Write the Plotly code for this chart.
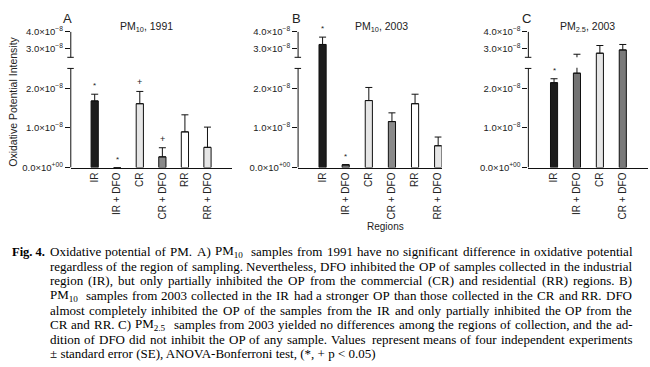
import re
import plotly.graph_objects as go

W, H = 650, 367

# ---------------- data (values in units of 1e-8) ----------------
cats_AB = ["IR", "IR + DFO", "CR", "CR + DFO", "RR", "RR + DFO"]
cats_C = ["IR", "IR + DFO", "CR", "CR + DFO"]

vals_A = [1.68, 0.0, 1.61, 0.27, 0.90, 0.51]
err_A = [0.17, 0.0, 0.31, 0.23, 0.43, 0.51]
sig_A = ["*", "*", "+", "+", "", ""]

vals_B = [3.25, 0.07, 1.69, 1.16, 1.61, 0.55]
err_B = [0.43, 0.0, 0.33, 0.22, 0.24, 0.22]
sig_B = ["*", "*", "", "", "", ""]

vals_C = [2.14, 2.38, 2.74, 2.93]
err_C = [0.10, 0.30, 0.45, 0.32]
sig_C = ["*", "", "", ""]

colors_A = ["#1c1c1c", "#707070", "#e6e6e6", "#8a8a8a", "#ffffff", "#e6e6e6"]
colors_B = ["#1c1c1c", "#6e6e6e", "#e6e6e6", "#8a8a8a", "#ffffff", "#e6e6e6"]
colors_C = ["#1c1c1c", "#737373", "#e6e6e6", "#7a7a7a"]

tick_values = [0, 1, 2, 3, 4]
tick_labels = ["0.0×10<sup>+00</sup>", "1.0×10<sup>−8</sup>", "2.0×10<sup>−8</sup>",
               "3.0×10<sup>−8</sup>", "4.0×10<sup>−8</sup>"]

panel_letters = ["A", "B", "C"]
panel_titles = ["PM<sub>10</sub>, 1991", "PM<sub>10</sub>, 2003", "PM<sub>2.5</sub>, 2003"]

caption_lines = [
    "Oxidative potential of PM. A) PM<sub>10</sub> samples from 1991 have no significant difference in oxidative potential",
    "regardless of the region of sampling. Nevertheless, DFO inhibited the OP of samples collected in the industrial",
    "region (IR), but only partially inhibited the OP from the commercial (CR) and residential (RR) regions. B)",
    "PM<sub>10</sub> samples from 2003 collected in the IR had a stronger OP than those collected in the CR and RR. DFO",
    "almost completely inhibited the OP of the samples from the IR and only partially inhibited the OP from the",
    "CR and RR. C) PM<sub>2.5</sub> samples from 2003 yielded no differences among the regions of collection, and the ad-",
    "dition of DFO did not inhibit the OP of any sample. Values represent means of four independent experiments",
    "± standard error (SE), ANOVA-Bonferroni test, (*, + p &lt; 0.05)",
]

# ---------------- broken axis transform ----------------
LOW_TOP = 2.5      # top of lower segment
GAP = 0.28         # gap (in lower-segment units)
K = 17.7 / 41.0    # compression of upper segment


def disp(v):
    return v if v <= LOW_TOP else LOW_TOP + GAP + (v - LOW_TOP) * K


Y_TOP = disp(4.0)


def px(x):
    return x / W


def py(y):
    return 1 - y / H


y_dom = [py(166), py(166 - Y_TOP * 41)]

panels = [
    dict(cats=cats_AB, vals=vals_A, err=err_A, sig=sig_A, colors=colors_A,
         dom=[px(71), px(233)], rng=[-1.06, 6.1], width=0.32),
    dict(cats=cats_AB, vals=vals_B, err=err_B, sig=sig_B, colors=colors_B,
         dom=[px(299), px(443)], rng=[-1.06, 5.15], width=0.31),
    dict(cats=cats_C, vals=vals_C, err=err_C, sig=sig_C, colors=colors_C,
         dom=[px(530), px(650)], rng=[-1.12, 4.1], width=0.31),
]

fig = go.Figure()
annotations = []
shapes = []
FONT = "Liberation Sans, Arial, sans-serif"
SERIF = "Liberation Serif, Times New Roman, serif"

for i, p in enumerate(panels):
    n = "" if i == 0 else str(i + 1)
    xa, ya = "x" + n, "y" + n
    dv = [disp(v) for v in p["vals"]]
    de = [disp(v + e) - disp(v) for v, e in zip(p["vals"], p["err"])]
    fig.add_trace(go.Bar(
        x=p["cats"], y=dv, xaxis=xa, yaxis=ya, width=p["width"],
        marker=dict(color=p["colors"], line=dict(color="#111111", width=1)),
        error_y=dict(type="data", array=de, arrayminus=[0] * len(de), symmetric=False,
                     color="#111111", thickness=1, width=3.5),
        showlegend=False, hoverinfo="skip",
    ))
    fig.update_layout({
        "xaxis" + n: dict(domain=p["dom"], range=p["rng"], anchor=ya, type="category",
                          showline=True, linecolor="#111111", linewidth=1, ticks="",
                          tickangle=-90, tickfont=dict(family=FONT, size=10, color="#222"),
                          showgrid=False, zeroline=False, fixedrange=True),
        "yaxis" + n: dict(domain=y_dom, range=[0, Y_TOP], anchor=xa,
                          tickvals=[disp(t) for t in tick_values], ticktext=tick_labels,
                          ticks="outside", ticklen=5, tickcolor="#111111", tickwidth=1,
                          tickfont=dict(family=FONT, size=9.5, color="#222"),
                          showline=False, showgrid=False, zeroline=False, fixedrange=True),
    })
    # broken y-axis line
    for y0, y1 in [(0, LOW_TOP), (LOW_TOP + GAP, Y_TOP)]:
        shapes.append(dict(type="line", xref=xa + " domain", yref=ya, x0=0, x1=0,
                           y0=y0, y1=y1, line=dict(color="#111111", width=1)))
    for yb in [LOW_TOP, LOW_TOP + GAP]:
        shapes.append(dict(type="line", xref=xa + " domain", yref=ya, xsizemode="pixel",
                           xanchor=0, x0=-3.5, x1=3, y0=yb, y1=yb,
                           line=dict(color="#111111", width=1)))
    # error bars are interrupted inside the axis break
    for c, v, e in zip(p["cats"], p["vals"], p["err"]):
        if v < LOW_TOP < v + e:
            shapes.append(dict(type="rect", xref=xa, yref=ya, xsizemode="pixel", xanchor=c,
                               x0=-2, x1=2, y0=LOW_TOP + 0.02, y1=LOW_TOP + GAP,
                               fillcolor="white", line=dict(width=0), layer="above"))
    # significance marks
    for c, v, e, s in zip(p["cats"], p["vals"], p["err"], p["sig"]):
        if s:
            annotations.append(dict(x=c, y=disp(v + e), xref=xa, yref=ya, text=s,
                                    showarrow=False, yanchor="bottom", yshift=2,
                                    font=dict(family=FONT, size=9 if s == "+" else 8, color="#222")))

# panel letters and titles
letter_pos = [(67.5, 12), (297, 12), (528, 12)]
title_pos = [(147, 21), (383, 21), (589, 21)]
for (lx, ly), (tx, ty), L, T in zip(letter_pos, title_pos, panel_letters, panel_titles):
    annotations.append(dict(x=px(lx), y=py(ly), xref="paper", yref="paper", text=L,
                            showarrow=False, xanchor="center", yanchor="middle",
                            font=dict(family=FONT, size=13, color="#222")))
    annotations.append(dict(x=px(tx), y=py(ty), xref="paper", yref="paper", text=T,
                            showarrow=False, xanchor="center", yanchor="middle",
                            font=dict(family=FONT, size=10.5, color="#222")))

# axis titles
annotations.append(dict(x=px(13), y=py(98), xref="paper", yref="paper",
                        text="Oxidative Potential Intensity", textangle=-90,
                        showarrow=False, xanchor="center", yanchor="middle",
                        font=dict(family=FONT, size=10.5, color="#222")))
annotations.append(dict(x=px(387), y=py(227), xref="paper", yref="paper",
                        text="Regions", showarrow=False, xanchor="center", yanchor="middle",
                        font=dict(family=FONT, size=10, color="#222")))

# ---------------- caption (justified, word by word) ----------------
TIMES = {
    " ": 250, "!": 333, "#": 500, "%": 833, "&": 778, "(": 333, ")": 333, "*": 500,
    "+": 564, ",": 250, "-": 333, ".": 250, "/": 278, ":": 278, ";": 278, "<": 564,
    "=": 564, ">": 564, "?": 444, "±": 564,
    "A": 722, "B": 667, "C": 667, "D": 722, "E": 611, "F": 556, "G": 722, "H": 722,
    "I": 333, "J": 389, "K": 722, "L": 611, "M": 889, "N": 722, "O": 722, "P": 556,
    "Q": 722, "R": 667, "S": 556, "T": 611, "U": 722, "V": 722, "W": 944, "X": 722,
    "Y": 722, "Z": 611,
    "a": 444, "b": 500, "c": 444, "d": 500, "e": 444, "f": 333, "g": 500, "h": 500,
    "i": 278, "j": 278, "k": 500, "l": 278, "m": 778, "n": 500, "o": 500, "p": 500,
    "q": 500, "r": 333, "s": 389, "t": 278, "u": 500, "v": 500, "w": 722, "x": 500,
    "y": 500, "z": 444,
}
for d in "0123456789":
    TIMES[d] = 500


def word_width(word, fs):
    w = 0.0
    for part in re.split(r"(<sub>.*?</sub>)", word):
        if part.startswith("<sub>"):
            w += 0.85 * sum(TIMES.get(ch, 500) for ch in part[5:-6]) + 150
        else:
            w += sum(TIMES.get(ch, 500) for ch in part.replace("&lt;", "<"))
    return w * fs / 1000.0


CAP_FS = 13
CAP_L, CAP_R = 49, 633
cap_y = [253 + 15.1 * k for k in range(len(caption_lines))]

annotations.append(dict(x=px(11), y=py(cap_y[0]), xref="paper", yref="paper",
                        text="<b>Fig. 4.</b>", showarrow=False, xanchor="left", yanchor="middle",
                        borderpad=0, font=dict(family=SERIF, size=12.5, color="#000")))
for li, (line, yy) in enumerate(zip(caption_lines, cap_y)):
    if li == len(caption_lines) - 1:
        annotations.append(dict(x=px(CAP_L), y=py(yy), xref="paper", yref="paper",
                                text=line, showarrow=False, xanchor="left", yanchor="middle",
                                borderpad=0, font=dict(family=SERIF, size=CAP_FS, color="#000")))
        continue
    words = line.split(" ")
    widths = [word_width(w_, CAP_FS) for w_ in words]
    gap = (CAP_R - CAP_L - sum(widths)) / (len(words) - 1)
    xcur = CAP_L
    for w_, wd in zip(words, widths):
        annotations.append(dict(x=px(xcur), y=py(yy), xref="paper", yref="paper",
                                text=w_, showarrow=False, xanchor="left", yanchor="middle",
                                borderpad=0, font=dict(family=SERIF, size=CAP_FS, color="#000")))
        xcur += wd + gap

fig.update_layout(
    width=W, height=H, autosize=False,
    margin=dict(l=0, r=0, t=0, b=0, pad=0),
    paper_bgcolor="white", plot_bgcolor="white",
    annotations=annotations, shapes=shapes,
)

fig.write_html("out.html", config={"displayModeBar": False},
               post_script="document.body.style.margin='0';document.body.style.overflow='hidden';")
